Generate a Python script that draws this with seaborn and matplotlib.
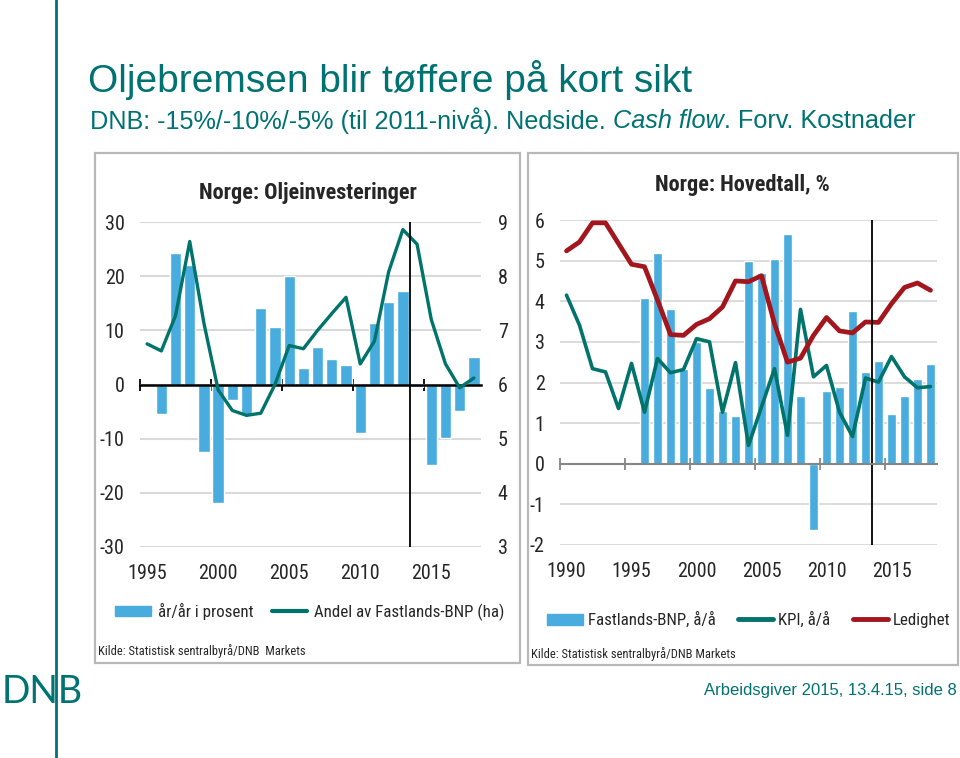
import numpy as np
import pandas as pd
import matplotlib
matplotlib.use("Agg")
import matplotlib.pyplot as plt
import seaborn as sns
from matplotlib import font_manager as fm
from matplotlib.patches import Rectangle, Patch
from matplotlib.lines import Line2D

# ---------------- data ----------------
oil_line_years = list(range(1995, 2019))
oil_share = [6.75, 6.62, 7.27, 8.64, 7.13, 5.90, 5.52, 5.43, 5.47, 6.00, 6.72, 6.66,
             7.00, 7.31, 7.61, 6.38, 6.80, 8.08, 8.86, 8.59, 7.20, 6.38, 5.94, 6.12]
oil_bar_years = list(range(1996, 2019))
oil_growth = [-5.5, 24.2, 22.0, -12.5, -21.9, -2.9, -5.7, 14.2, 10.6, 20.0, 3.1, 7.0,
              4.7, 3.6, -9.0, 11.3, 15.2, 17.2, -0.4, -14.9, -9.9, -4.8, 5.0]

main_years = list(range(1990, 2019))
kpi = [4.15, 3.41, 2.34, 2.26, 1.36, 2.47, 1.27, 2.59, 2.24, 2.32,
       3.08, 3.00, 1.27, 2.49, 0.45, 1.40, 2.34, 0.70, 3.80, 2.14,
       2.42, 1.27, 0.67, 2.11, 2.01, 2.64, 2.14, 1.87, 1.90]
ledighet = [5.24, 5.46, 5.93, 5.93, 5.42, 4.91, 4.85, 4.03, 3.18, 3.16,
            3.43, 3.57, 3.86, 4.50, 4.48, 4.63, 3.45, 2.50, 2.60, 3.16,
            3.60, 3.27, 3.22, 3.49, 3.48, 3.94, 4.34, 4.45, 4.27]
bnp_years = list(range(1996, 2019))
bnp = [4.07, 5.18, 3.80, 2.34, 3.00, 1.87, 1.30, 1.18, 5.00, 4.70, 5.05, 5.65,
       1.66, -1.62, 1.79, 1.88, 3.76, 2.25, 2.52, 1.22, 1.68, 2.08, 2.45]

left_yticks = [-30, -20, -10, 0, 10, 20, 30]
left_ylabels = ["-30", "-20", "-10", "0", "10", "20", "30"]
left2_yticks = [3, 4, 5, 6, 7, 8, 9]
main_yticks = [-2, -1, 0, 1, 2, 3, 4, 5, 6]
main_ylabels = ["-2", "-1", "0", "1", "2", "3", "4", "5", "6"]
left_year_labels = [1995, 2000, 2005, 2010, 2015]
right_year_labels = [1990, 1995, 2000, 2005, 2010, 2015]
forecast_split = 2013.5

# ---------------- fonts ----------------
entries = fm.fontManager.ttflist
names = {e.name for e in entries}
NARROW, STRETCH, SZ = None, "normal", 1.0
for cand in ["Liberation Sans Narrow", "Arial Narrow", "Nimbus Sans Narrow",
             "Roboto Condensed", "Open Sans Condensed", "Noto Sans Condensed",
             "DejaVu Sans Condensed"]:
    if cand in names:
        NARROW = cand
        break
if NARROW is None:
    for fam in ["Roboto", "Noto Sans", "Open Sans", "DejaVu Sans"]:
        if any(e.name == fam and e.stretch in ("condensed", "semi-condensed",
                                               "extra-condensed") for e in entries):
            NARROW, STRETCH = fam, "condensed"
            break
if NARROW is None:
    NARROW, SZ = "Liberation Sans", 0.86

# ---------------- style ----------------
sns.set_theme(style="white")
plt.rcParams["font.family"] = [NARROW, "Liberation Sans", "DejaVu Sans"]
plt.rcParams["font.stretch"] = STRETCH
plt.rcParams["axes.unicode_minus"] = False
REG = ["Liberation Sans", "DejaVu Sans"]

TEAL = "#007272"
BLUE = "#48acdf"
LTEAL = "#00736b"
RED = "#a3161d"
GRID = "#d9d9d9"

W, H = 960, 758
fig = plt.figure(figsize=(W / 100, H / 100), dpi=100)
fx = lambda px: px / W
fy = lambda py: 1 - py / H

# frames around the two charts
for (x0, y0, x1, y1) in [(95, 153, 520, 663), (528, 153, 958, 665)]:
    fig.patches.append(Rectangle((fx(x0), fy(y1)), fx(x1) - fx(x0), fy(y0) - fy(y1),
                                 transform=fig.transFigure, fill=False,
                                 edgecolor="#b8b8b8", lw=1.6))

TICK_FS = 14.5 * SZ
LEG_FS = 12.2 * SZ


def style_category_axis(ax, xlim, boundaries, labels, axis_color, lw):
    ax.set_xlim(*xlim)
    for s in ["top", "left", "right"]:
        ax.spines[s].set_visible(False)
    ax.spines["bottom"].set_position(("data", 0))
    ax.spines["bottom"].set_color(axis_color)
    ax.spines["bottom"].set_linewidth(lw)
    ax.set_xticks(boundaries)
    ax.tick_params(axis="x", bottom=True, direction="inout", length=9, width=1.3,
                   color=axis_color, labelbottom=False)
    sec = ax.secondary_xaxis("bottom")
    sec.set_xticks(labels)
    sec.set_xticklabels([str(v) for v in labels])
    sec.tick_params(axis="x", length=0, pad=12, labelsize=TICK_FS)
    sec.spines["bottom"].set_visible(False)
    ax.set_xlabel("")
    ax.set_ylabel("")


# ---------------- left chart ----------------
axL = fig.add_axes([fx(140), fy(547), fx(481) - fx(140), fy(222) - fy(547)])
sns.barplot(x=oil_bar_years, y=oil_growth, native_scale=True, width=0.8, color=BLUE,
            saturation=1, errorbar=None, ax=axL)
axL.set_ylim(-30, 30)
axL.set_yticks(left_yticks)
axL.set_yticklabels(left_ylabels)
axL.tick_params(axis="y", left=False, length=0, pad=11, labelsize=TICK_FS)
axL.yaxis.grid(True, color=GRID, lw=1.5)
axL.xaxis.grid(False)
axL.set_axisbelow(True)
style_category_axis(axL, (1994.5, 2018.5), [1994.5, 1999.5, 2004.5, 2009.5, 2014.5],
                    left_year_labels, "black", 1.8)

axL2 = axL.twinx()
sns.lineplot(x=oil_line_years, y=oil_share, color=LTEAL, lw=2.4, ax=axL2)
axL2.set_ylim(3, 9)
axL2.set_yticks(left2_yticks)
axL2.tick_params(axis="y", right=False, length=0, pad=12, labelsize=TICK_FS)
axL2.grid(False)
for s in axL2.spines.values():
    s.set_visible(False)
axL2.set_ylabel("")
axL2.axvline(forecast_split, color="black", lw=1.3)

fig.text(fx(308), fy(193), "Norge: Oljeinvesteringer", ha="center", va="center",
         fontsize=16 * SZ, fontweight="bold")
fig.legend([Patch(color=BLUE), Line2D([], [], color=LTEAL, lw=3)],
           ["år/år i prosent", "Andel av Fastlands-BNP (ha)"],
           loc="center", bbox_to_anchor=(fx(310), fy(612)), ncol=2, frameon=False,
           fontsize=LEG_FS, handlelength=2.1, handleheight=0.6, handletextpad=0.4,
           columnspacing=1.1)
fig.text(fx(98), fy(651), "Kilde: Statistisk sentralbyrå/DNB  Markets", fontsize=9 * SZ,
         va="center")

# ---------------- right chart ----------------
axR = fig.add_axes([fx(560), fy(545), fx(937) - fx(560), fy(220) - fy(545)])
sns.barplot(x=bnp_years, y=bnp, native_scale=True, width=0.66, color=BLUE,
            saturation=1, errorbar=None, ax=axR)
sns.lineplot(x=main_years, y=kpi, color=LTEAL, lw=2.6, ax=axR)
sns.lineplot(x=main_years, y=ledighet, color=RED, lw=3.4, ax=axR)
axR.set_ylim(-2, 6)
axR.set_yticks(main_yticks)
axR.set_yticklabels(main_ylabels)
axR.tick_params(axis="y", left=False, length=0, pad=11, labelsize=TICK_FS)
axR.yaxis.grid(True, color=GRID, lw=1.3)
axR.xaxis.grid(False)
axR.set_axisbelow(True)
style_category_axis(axR, (1989.5, 2018.5),
                    [1989.5, 1994.5, 1999.5, 2004.5, 2009.5, 2014.5],
                    right_year_labels, "#868686", 1.5)
axR.axvline(forecast_split, color="black", lw=1.3)

fig.text(fx(742), fy(185), "Norge: Hovedtall, %", ha="center", va="center",
         fontsize=16 * SZ, fontweight="bold")
fig.legend([Patch(color=BLUE), Line2D([], [], color=LTEAL, lw=3.5),
            Line2D([], [], color=RED, lw=3.5)],
           ["Fastlands-BNP, å/å", "KPI, å/å", "Ledighet"],
           loc="center", bbox_to_anchor=(fx(749), fy(620)), ncol=3, frameon=False,
           fontsize=LEG_FS, handlelength=2.1, handleheight=0.6, handletextpad=0.3,
           columnspacing=1.3)
fig.text(fx(531), fy(654), "Kilde: Statistisk sentralbyrå/DNB Markets", fontsize=9 * SZ,
         va="center")

# ---------------- page text ----------------
fig.text(fx(88), fy(80), "Oljebremsen blir tøffere på kort sikt", fontsize=28, color=TEAL,
         family=REG, stretch="normal", va="center")

renderer = fig.canvas.get_renderer()
x = fx(90)
parts = [("DNB: -15%/-10%/-5% (til 2011-nivå). Nedside. ", "normal"),
         ("Cash flow", "italic"),
         (". Forv. Kostnader", "normal")]
for txt, style in parts:
    t = fig.text(x, fy(121), txt, fontsize=18.2, color=TEAL, style=style,
                 family=REG, stretch="normal", va="center")
    bb = t.get_window_extent(renderer)
    x += bb.width / W

fig.text(fx(957), fy(690), "Arbeidsgiver 2015, 13.4.15, side 8", fontsize=12, color=TEAL,
         family=REG, stretch="normal", ha="right", va="center")

# DNB logo and vertical rule
fig.add_artist(Line2D([fx(56), fx(56)], [0, 1], transform=fig.transFigure, color=TEAL, lw=2))
fig.text(fx(2), fy(703), "DNB", fontsize=27, color=TEAL, family=["Lato", "DejaVu Sans"],
         stretch="normal", va="baseline", ha="left")

fig.savefig("out.png", dpi=100)
